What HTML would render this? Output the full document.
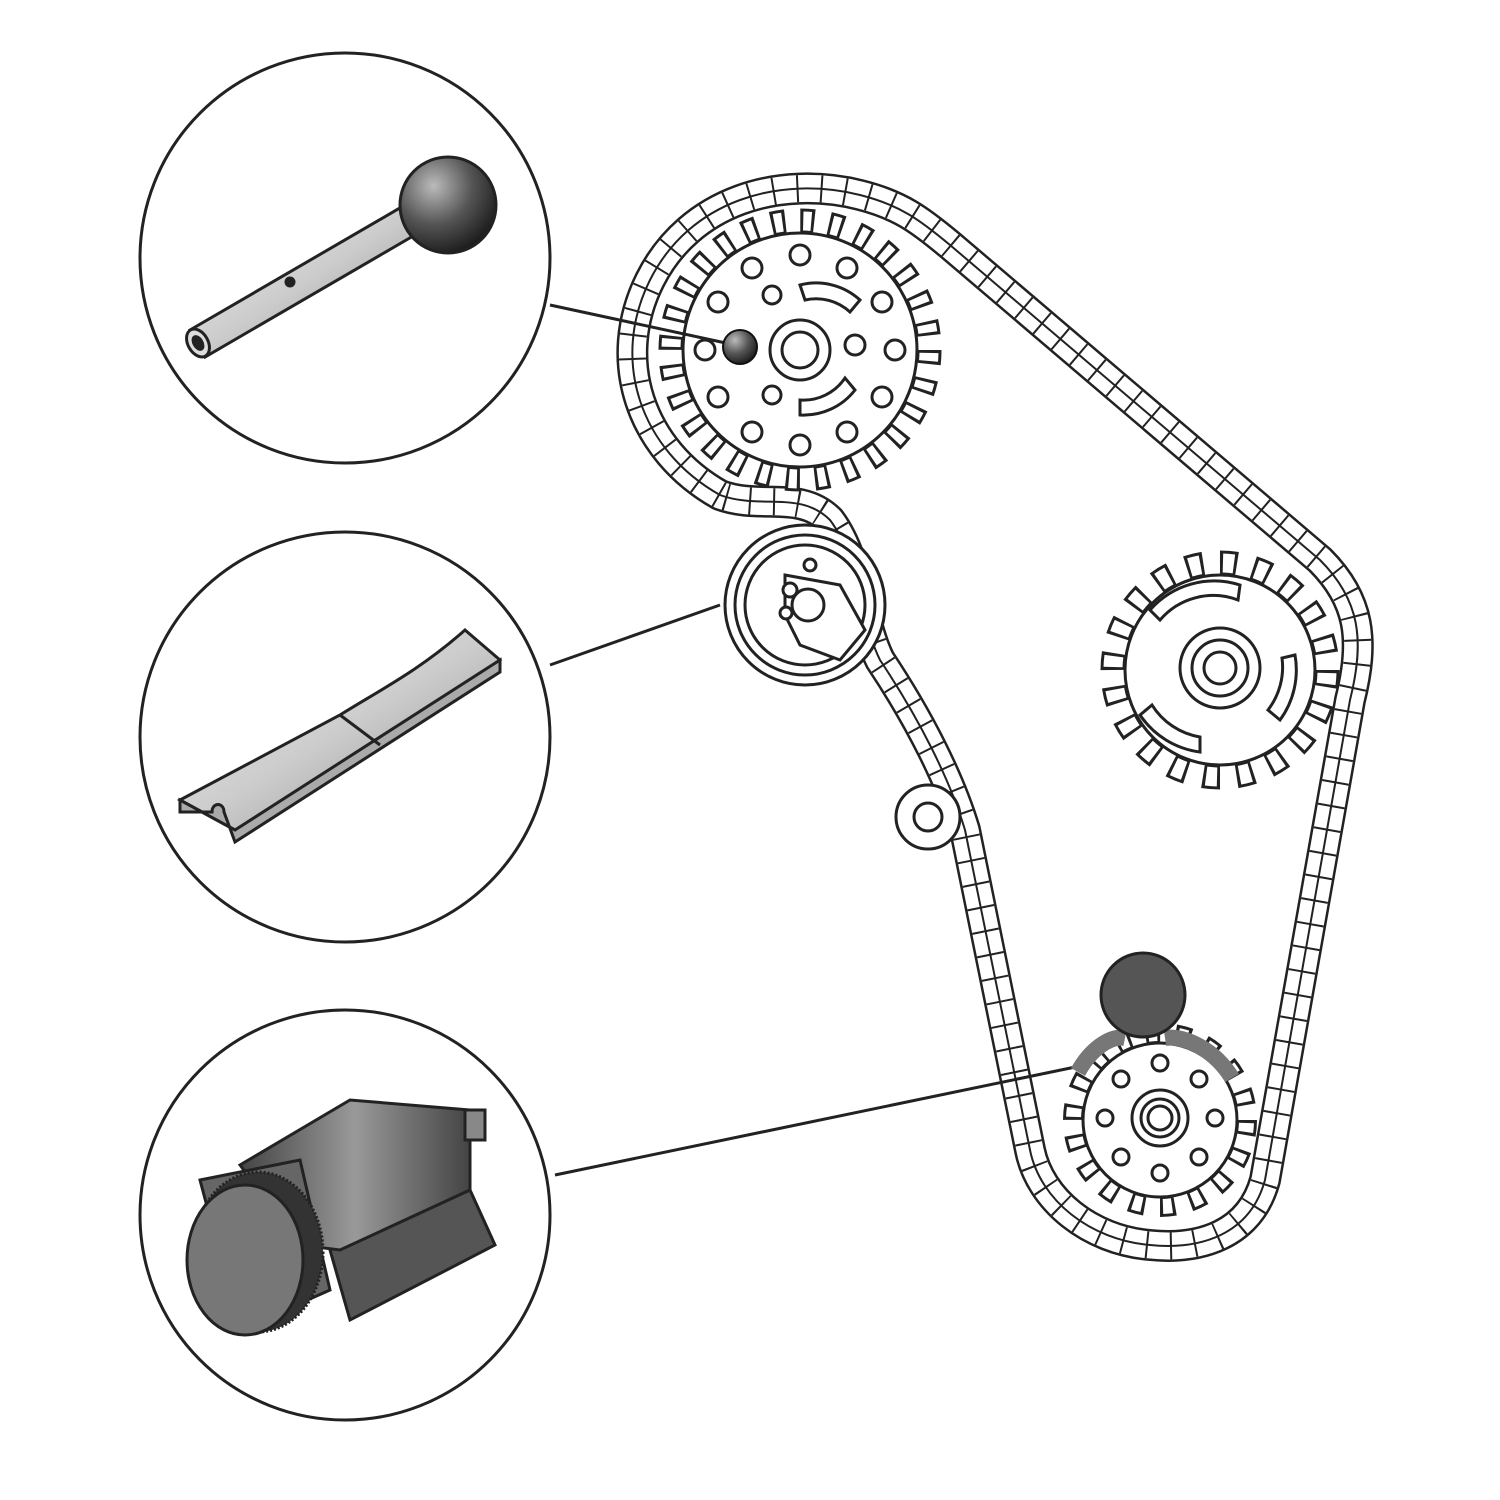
<!DOCTYPE html>
<html><head><meta charset="utf-8"><style>
html,body{margin:0;padding:0;background:#fff;width:1500px;height:1500px;overflow:hidden}
</style></head><body>
<svg width="1500" height="1500" viewBox="0 0 1500 1500" xmlns="http://www.w3.org/2000/svg">
<defs>
<radialGradient id="ball" cx="0.35" cy="0.3" r="0.8"><stop offset="0" stop-color="#bbb"/><stop offset="0.5" stop-color="#555"/><stop offset="1" stop-color="#111"/></radialGradient>
<linearGradient id="metal" x1="0" y1="0" x2="1" y2="1"><stop offset="0" stop-color="#f2f2f2"/><stop offset="0.5" stop-color="#ccc"/><stop offset="1" stop-color="#888"/></linearGradient>
<linearGradient id="dark" x1="0" y1="0" x2="1" y2="0"><stop offset="0" stop-color="#444"/><stop offset="0.5" stop-color="#999"/><stop offset="1" stop-color="#444"/></linearGradient>
</defs>
<g fill="none" stroke="#222" stroke-width="3">
<circle cx="345" cy="258" r="205"/>
<circle cx="345" cy="737" r="205"/>
<circle cx="345" cy="1215" r="205"/>
</g>

<g fill="none" stroke-linejoin="round">
<path d="M720,495 C640,450 610,360 650,280 C690,200 780,175 860,195 C900,205 920,220 950,245 L1320,560 C1360,600 1365,640 1350,700 L1265,1180 C1250,1235 1200,1250 1150,1245 C1090,1240 1040,1200 1030,1150 L965,830 C950,780 920,720 880,660 C860,620 860,560 830,520 C800,490 760,510 720,495 Z" stroke="#222" stroke-width="32"/>
<path d="M720,495 C640,450 610,360 650,280 C690,200 780,175 860,195 C900,205 920,220 950,245 L1320,560 C1360,600 1365,640 1350,700 L1265,1180 C1250,1235 1200,1250 1150,1245 C1090,1240 1040,1200 1030,1150 L965,830 C950,780 920,720 880,660 C860,620 860,560 830,520 C800,490 760,510 720,495 Z" stroke="#fff" stroke-width="27"/>
<path d="M720,495 C640,450 610,360 650,280 C690,200 780,175 860,195 C900,205 920,220 950,245 L1320,560 C1360,600 1365,640 1350,700 L1265,1180 C1250,1235 1200,1250 1150,1245 C1090,1240 1040,1200 1030,1150 L965,830 C950,780 920,720 880,660 C860,620 860,560 830,520 C800,490 760,510 720,495 Z" stroke="#222" stroke-width="2"/>
<path d="M720,495 C640,450 610,360 650,280 C690,200 780,175 860,195 C900,205 920,220 950,245 L1320,560 C1360,600 1365,640 1350,700 L1265,1180 C1250,1235 1200,1250 1150,1245 C1090,1240 1040,1200 1030,1150 L965,830 C950,780 920,720 880,660 C860,620 860,560 830,520 C800,490 760,510 720,495 Z" stroke="#222" stroke-width="27" stroke-dasharray="2 22"/>
</g>

<g>
<circle cx="800" cy="350" r="129" fill="none" stroke="#222" stroke-width="25" stroke-dasharray="14 14.95"/>
<circle cx="800" cy="350" r="129" fill="none" stroke="#fff" stroke-width="19" stroke-dasharray="8 20.95" stroke-dashoffset="-3"/>
<circle cx="800" cy="350" r="117" fill="#fff" stroke="#222" stroke-width="3"/>
<g fill="#fff" stroke="#222" stroke-width="3">
<circle cx="800" cy="350" r="30"/><circle cx="800" cy="350" r="18"/>
<circle cx="895" cy="350" r="10"/><circle cx="882" cy="397" r="10"/><circle cx="847" cy="432" r="10"/><circle cx="800" cy="445" r="10"/><circle cx="752" cy="432" r="10"/><circle cx="718" cy="397" r="10"/><circle cx="705" cy="350" r="10"/><circle cx="718" cy="302" r="10"/><circle cx="752" cy="268" r="10"/><circle cx="800" cy="255" r="10"/><circle cx="847" cy="268" r="10"/><circle cx="882" cy="302" r="10"/>
<circle cx="772" cy="295" r="9"/><circle cx="772" cy="395" r="9"/><circle cx="855" cy="345" r="10"/>
<path d="M800,285 A65,65 0 0 1 860,300 L850,312 A50,50 0 0 0 805,300 Z"/>
<path d="M855,390 A65,65 0 0 1 800,415 L800,400 A50,50 0 0 0 845,378 Z"/>
</g>
</g>

<g>
<circle cx="1220" cy="670" r="107" fill="none" stroke="#222" stroke-width="25" stroke-dasharray="17 16.6"/>
<circle cx="1220" cy="670" r="107" fill="none" stroke="#fff" stroke-width="19" stroke-dasharray="11 22.6" stroke-dashoffset="-3"/>
<circle cx="1220" cy="670" r="95" fill="#fff" stroke="#222" stroke-width="3"/>
<g fill="#fff" stroke="#222" stroke-width="3">
<circle cx="1220" cy="668" r="40"/><circle cx="1220" cy="668" r="28"/><circle cx="1220" cy="668" r="16"/>
<path d="M1150,610 A85,85 0 0 1 1240,585 L1238,600 A70,70 0 0 0 1160,620 Z"/>
<path d="M1295,655 A85,85 0 0 1 1280,720 L1268,710 A70,70 0 0 0 1282,658 Z"/>
<path d="M1140,715 A85,85 0 0 0 1200,752 L1200,737 A70,70 0 0 1 1152,705 Z"/>
</g>
</g>

<g>
<circle cx="1160" cy="1120" r="86.5" fill="none" stroke="#222" stroke-width="21" stroke-dasharray="15 15.2"/>
<circle cx="1160" cy="1120" r="86.5" fill="none" stroke="#fff" stroke-width="15" stroke-dasharray="9 21.2" stroke-dashoffset="-3"/>
<circle cx="1160" cy="1120" r="77" fill="#fff" stroke="#222" stroke-width="3"/>
<g fill="#fff" stroke="#222" stroke-width="3">
<circle cx="1160" cy="1118" r="28"/><circle cx="1160" cy="1118" r="19"/><circle cx="1160" cy="1118" r="12"/>
<circle cx="1215" cy="1118" r="8"/><circle cx="1199" cy="1157" r="8"/><circle cx="1160" cy="1173" r="8"/><circle cx="1121" cy="1157" r="8"/><circle cx="1105" cy="1118" r="8"/><circle cx="1121" cy="1079" r="8"/><circle cx="1160" cy="1063" r="8"/><circle cx="1199" cy="1079" r="8"/>
</g>
</g>

<g fill="#fff" stroke="#222" stroke-width="3">
<circle cx="805" cy="605" r="80"/><circle cx="805" cy="605" r="70"/><circle cx="805" cy="605" r="60"/>
<path d="M785,575 L840,585 L865,630 L840,660 L800,645 L785,615 Z"/>
<circle cx="808" cy="605" r="16"/><circle cx="790" cy="590" r="7"/><circle cx="810" cy="565" r="6"/><circle cx="786" cy="613" r="6"/>
<circle cx="928" cy="817" r="32"/><circle cx="928" cy="817" r="14"/>
</g>

<g stroke="#222" stroke-width="3">
<line x1="550" y1="305" x2="735" y2="345"/>
<line x1="550" y1="665" x2="720" y2="605"/>
<line x1="555" y1="1175" x2="1085" y2="1065"/>
</g>

<path d="M1078,1072 C1090,1050 1110,1035 1125,1038" fill="none" stroke="#777" stroke-width="16"/>
<path d="M1165,1038 C1185,1035 1215,1050 1232,1078" fill="none" stroke="#777" stroke-width="16"/>
<circle cx="1143" cy="995" r="42" fill="#555" stroke="#222" stroke-width="3"/>
<circle cx="740" cy="347" r="17" fill="url(#ball)" stroke="#111" stroke-width="2"/>

<g stroke="#222" stroke-width="3">
<path d="M190,330 L405,205 L420,232 L205,357 Z" fill="url(#metal)"/>
<ellipse cx="198" cy="343" rx="10" ry="15" transform="rotate(-30 198 343)" fill="#ddd"/>
<ellipse cx="198" cy="343" rx="4" ry="7" transform="rotate(-30 198 343)" fill="#222"/>
<circle cx="290" cy="282" r="4" fill="#222"/>
<circle cx="448" cy="205" r="48" fill="url(#ball)"/>
</g>

<g stroke="#222" stroke-width="3" fill="url(#metal)">
<path d="M180,800 L340,715 C380,690 420,670 465,630 L500,660 C455,700 420,720 380,745 L235,830 Z"/>
<path d="M180,800 L180,812 L212,812 C212,802 224,802 224,812 L235,842 L500,672 L500,660 L235,830 Z" fill="#aaa"/>
<line x1="340" y1="715" x2="380" y2="745"/>
</g>

<g stroke="#222" stroke-width="3">
<path d="M330,1250 L470,1190 L495,1245 L350,1320 Z" fill="#555"/>
<path d="M240,1165 L350,1100 L470,1110 L470,1190 L340,1250 L300,1245 Z" fill="url(#dark)"/>
<rect x="465" y="1110" width="20" height="30" fill="#888"/>
<path d="M200,1180 L300,1160 L330,1290 L240,1330 Z" fill="#666"/>
<ellipse cx="258" cy="1252" rx="65" ry="80" fill="#333" stroke-dasharray="2 2"/>
<ellipse cx="245" cy="1260" rx="58" ry="75" fill="#777"/>
</g>
</svg>
</body></html>
